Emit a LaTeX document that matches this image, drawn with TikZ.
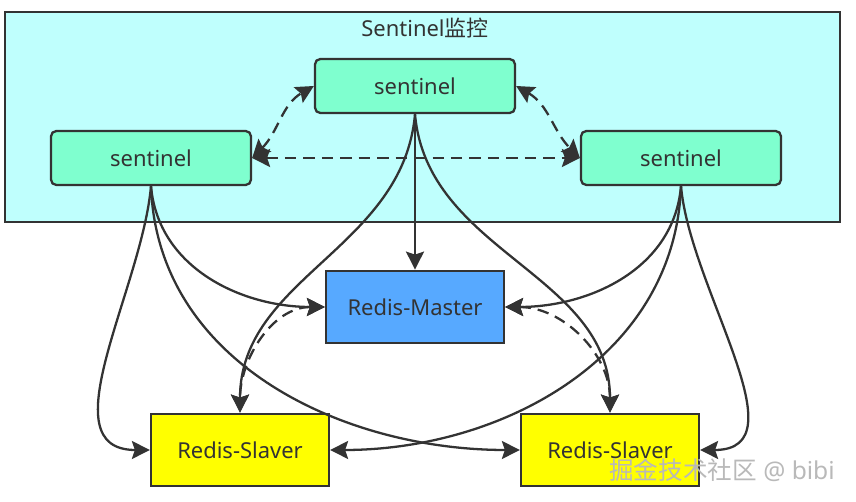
\documentclass[tikz,border=0pt]{standalone}
\usepackage{fontspec}
\setmainfont{Noto Sans}
\newfontfamily\cjk{Noto Sans CJK SC}
\usetikzlibrary{arrows.meta}
\definecolor{linegray}{HTML}{333333}
\definecolor{groupcyan}{HTML}{BFFFFD}
\definecolor{sentgreen}{HTML}{7FFFCF}
\definecolor{masterblue}{HTML}{57A9FF}
\definecolor{slaveyellow}{HTML}{FFFF00}
\tikzset{
	sentbox/.style={draw=linegray, fill=sentgreen, rounded corners=3pt, minimum width=4cm, minimum height=1.08cm},
	redisbox/.style={draw=linegray, minimum width=3.56cm, minimum height=1.45cm},
	tip/.style={Stealth[length=3.6mm,width=3.6mm,inset=0.6mm]},
	arr/.style={-{Stealth[length=3.6mm,width=3.6mm,inset=0.6mm]}},
	biarr/.style={{Stealth[length=3.6mm,width=3.6mm,inset=0.6mm]}-{Stealth[length=3.6mm,width=3.6mm,inset=0.6mm]}},
	dash line/.style={dash pattern=on 6.5pt off 4pt}
}

\begin{document}
\begin{tikzpicture}[x=0.02cm, y=-0.02cm, line width=1.3pt, font=\fontsize{12.5}{15}\selectfont, text=linegray]
				%%%%% START %%%%%
				\def\xmid{415}
				\def\xleft{151}
				\def\xright{681}
				\def\ysent{158}
				\def\yslave{450}

				\useasboundingbox (0,0) rectangle (856,502);

				\draw[linegray, fill=groupcyan] (5,12) rectangle (840,222);
				\node (title) at (425,28) {Sentinel{\cjk 监控}};

				\node[sentbox] (ts) at (\xmid,86) {sentinel};
				\node[sentbox] (ls) at (\xleft,\ysent) {sentinel};
				\node[sentbox] (rs) at (\xright,\ysent) {sentinel};

				\node[redisbox, fill=masterblue] (master) at (\xmid,307) {Redis-Master};
				\node[redisbox, fill=slaveyellow] (lslave) at (240,\yslave) {Redis-Slaver};
				\node[redisbox, fill=slaveyellow] (rslave) at (610,\yslave) {Redis-Slaver};

				% sentinels watch each other
				\draw[linegray, biarr, dash line] (ls.east) -- (rs.west);
				\draw[linegray, biarr, dash line] (ls.east) to[out=45,in=210] (ts.west);
				\draw[linegray, biarr, dash line] (ts.east) to[out=-30,in=135] (rs.west);

				% top sentinel
				\draw[linegray, arr] (ts.south) -- (master.north);
				\draw[linegray, arr] (ts.south) to[out=-95,in=90] (lslave.north);
				\draw[linegray, arr] (ts.south) to[out=-85,in=90] (rslave.north);

				% left sentinel
				\draw[linegray, arr] (ls.south) to[out=-95,in=180] (lslave.west);
				\draw[linegray, arr] (ls.south) to[out=-85,in=180] (master.west);
				\draw[linegray, arr] (ls.south) to[out=-88,in=180] (rslave.west);

				% right sentinel
				\draw[linegray, arr] (rs.south) to[out=-85,in=0] (rslave.east);
				\draw[linegray, arr] (rs.south) to[out=-95,in=0] (master.east);
				\draw[linegray, arr] (rs.south) to[out=-92,in=0] (lslave.east);

				% master and slaves
				\draw[linegray, biarr, dash line] (master.west) to[out=180,in=90] (lslave.north);
				\draw[linegray, biarr, dash line] (master.east) to[out=0,in=90] (rslave.north);

				\node[text=gray!55, font=\fontsize{14}{16}\selectfont] (mark) at (722,470) {{\cjk 掘金技术社区} @ bibi};
				%%%%% START %%%%%
\end{tikzpicture}
\end{document}
